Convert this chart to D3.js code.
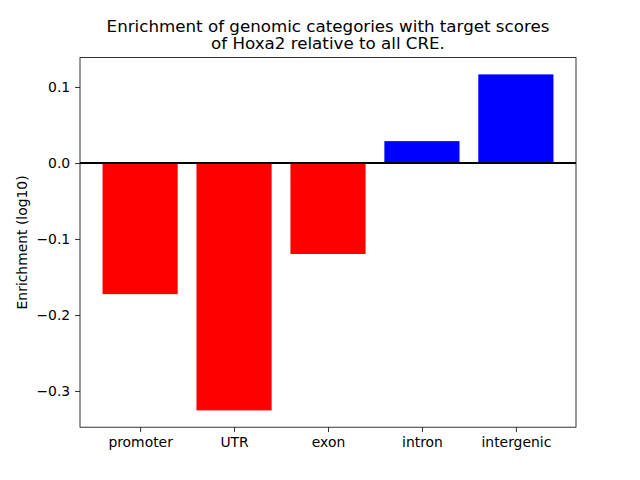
<!DOCTYPE html>
<html><head><meta charset="utf-8">
<script src="https://cdn.jsdelivr.net/npm/d3@7"></script>
<style>body{margin:0;background:#fff;}svg{display:block;font-family:"DejaVu Sans",sans-serif;}</style>
</head><body>
<svg id="c" width="640" height="480"></svg>
<script>
const categories = ["promoter","UTR","exon","intron","intergenic"];
const values = [-0.1725, -0.3255, -0.1197, 0.0288, 0.1166];
const yTicks = [0.1, 0.0, -0.1, -0.2, -0.3];
const titleLines = ["Enrichment of genomic categories with target scores","of Hoxa2 relative to all CRE."];

const svg = d3.select("#c");
const L=80, R=576, T=57.6, B=427.2;
const ymin = d3.min(values), ymax = d3.max(values);
const pad = (ymax-ymin)*0.05;
const y = d3.scaleLinear().domain([ymin-pad, ymax+pad]).range([B,T]);
const x = d3.scaleLinear().domain([-0.64, categories.length-1+0.64]).range([L,R]);

svg.append("g").selectAll("rect").data(values).join("rect")
  .attr("x",(d,i)=>x(i-0.4)).attr("width",(d,i)=>x(i+0.4)-x(i-0.4))
  .attr("y",d=>y(Math.max(0,d))).attr("height",d=>Math.abs(y(d)-y(0)))
  .attr("fill",d=>d<0?"#ff0000":"#0000ff");

svg.append("line").attr("x1",L).attr("x2",R).attr("y1",y(0)).attr("y2",y(0))
  .attr("stroke","#000").attr("stroke-width",2);

const fmt = d=> (d<0?"\u2212":"")+Math.abs(d).toFixed(1);
const yAxis = d3.axisLeft(y).tickValues(yTicks).tickFormat(fmt).tickSize(4.9).tickPadding(4.9);
const gy = svg.append("g").attr("transform",`translate(${L},0)`).call(yAxis);
const xAxis = d3.axisBottom(x).tickValues(d3.range(categories.length)).tickFormat(i=>categories[i]).tickSize(4.9).tickPadding(4.9);
const gx = svg.append("g").attr("transform",`translate(0,${B})`).call(xAxis);
[gy,gx].forEach(g=>{g.select(".domain").remove();g.selectAll("text").attr("font-size","13.9px").attr("fill","#000").attr("font-family","DejaVu Sans");g.selectAll("line").attr("stroke","#000").attr("stroke-width",0.8);});

svg.append("rect").attr("x",L).attr("y",T).attr("width",R-L).attr("height",B-T)
  .attr("fill","none").attr("stroke","#000").attr("stroke-width",0.8);

svg.append("text").attr("transform",`translate(27,${(T+B)/2}) rotate(-90)`)
  .attr("text-anchor","middle").attr("font-size","13.9px").text("Enrichment (log10)");

svg.append("g").selectAll("text").data(titleLines).join("text")
  .attr("x",(L+R)/2).attr("y",(d,i)=>32+i*17).attr("text-anchor","middle")
  .attr("font-size","16.7px").text(d=>d);
</script>
</body></html>
